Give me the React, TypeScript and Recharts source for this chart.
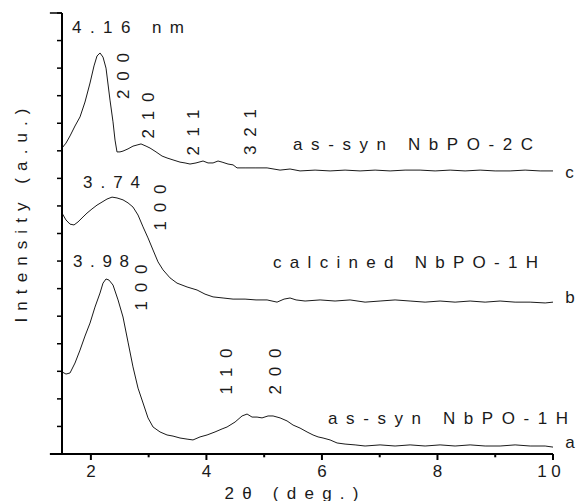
import React from 'react';
import { LineChart, Line, XAxis, YAxis, ReferenceDot, ReferenceLine, Label } from 'recharts';

const FONT = '"Liberation Sans", Arial, Helvetica, sans-serif';
const INK = '#1a1a1a';

// ---- Series (2θ in degrees, intensity in arbitrary units) ----
const twoThetaA = [1.5, 1.569, 1.639, 1.725, 1.812, 1.898, 1.985, 2.071, 2.158, 2.21, 2.262, 2.314, 2.383, 2.47, 2.556, 2.643, 2.729, 2.816, 2.903, 2.989, 3.076, 3.197, 3.318, 3.422, 3.543, 3.665, 3.768, 3.89, 4.011, 4.149, 4.271, 4.357, 4.496, 4.617, 4.704, 4.79, 4.877, 4.963, 5.067, 5.154, 5.275, 5.396, 5.5, 5.621, 5.742, 5.846, 5.933, 6.019, 6.141, 6.262, 6.4, 6.574, 6.747, 7.006, 7.266, 7.526, 7.786, 8.045, 8.305, 8.565, 8.825, 9.084, 9.344, 9.604, 9.864, 10.0];
const intensityA = [2.98, 2.9, 2.94, 3.3, 3.77, 4.28, 4.75, 5.33, 5.84, 6.2, 6.35, 6.31, 6.13, 5.59, 4.97, 4.06, 3.16, 2.39, 1.85, 1.31, 0.98, 0.8, 0.69, 0.65, 0.58, 0.54, 0.51, 0.62, 0.69, 0.8, 0.91, 0.98, 1.16, 1.38, 1.45, 1.34, 1.34, 1.31, 1.38, 1.38, 1.31, 1.2, 1.05, 0.94, 0.8, 0.69, 0.62, 0.58, 0.51, 0.4, 0.36, 0.33, 0.29, 0.33, 0.29, 0.33, 0.29, 0.33, 0.29, 0.33, 0.29, 0.29, 0.33, 0.29, 0.29, 0.25];

const twoThetaB = [1.5, 1.569, 1.639, 1.708, 1.777, 1.864, 1.933, 2.019, 2.106, 2.193, 2.279, 2.366, 2.452, 2.556, 2.643, 2.729, 2.816, 2.903, 2.989, 3.076, 3.162, 3.249, 3.37, 3.491, 3.665, 3.838, 3.976, 4.115, 4.288, 4.461, 4.669, 4.859, 5.05, 5.223, 5.344, 5.448, 5.552, 5.708, 5.968, 6.227, 6.487, 6.747, 7.006, 7.266, 7.526, 7.786, 8.045, 8.305, 8.565, 8.825, 9.084, 9.344, 9.604, 9.864, 10.0];
const intensityB = [8.74, 8.49, 8.34, 8.31, 8.42, 8.6, 8.74, 8.89, 9.03, 9.14, 9.25, 9.32, 9.29, 9.22, 9.11, 8.96, 8.67, 8.24, 7.84, 7.4, 6.97, 6.68, 6.39, 6.2, 6.06, 5.95, 5.8, 5.7, 5.66, 5.62, 5.62, 5.59, 5.59, 5.51, 5.62, 5.66, 5.59, 5.55, 5.59, 5.55, 5.59, 5.51, 5.55, 5.59, 5.55, 5.51, 5.55, 5.51, 5.55, 5.51, 5.55, 5.51, 5.51, 5.48, 5.51];

const twoThetaC = [1.5, 1.569, 1.639, 1.725, 1.812, 1.898, 1.985, 2.054, 2.106, 2.158, 2.21, 2.262, 2.331, 2.383, 2.418, 2.452, 2.504, 2.556, 2.643, 2.729, 2.799, 2.868, 2.955, 3.024, 3.128, 3.232, 3.318, 3.422, 3.543, 3.63, 3.716, 3.82, 3.942, 4.028, 4.115, 4.201, 4.271, 4.374, 4.461, 4.53, 4.669, 4.842, 5.05, 5.275, 5.448, 5.621, 5.881, 6.141, 6.4, 6.66, 6.92, 7.18, 7.439, 7.699, 7.959, 8.219, 8.478, 8.738, 8.998, 9.258, 9.517, 9.777, 10.0];
const intensityC = [11.1, 11.28, 11.54, 11.9, 12.23, 12.77, 13.46, 14.08, 14.44, 14.55, 14.4, 14.0, 12.84, 12.05, 11.39, 10.96, 10.96, 10.99, 11.07, 11.17, 11.21, 11.25, 11.17, 11.1, 10.96, 10.81, 10.74, 10.67, 10.59, 10.56, 10.52, 10.56, 10.63, 10.56, 10.56, 10.63, 10.59, 10.52, 10.49, 10.38, 10.38, 10.38, 10.38, 10.3, 10.34, 10.27, 10.3, 10.27, 10.3, 10.27, 10.3, 10.27, 10.3, 10.3, 10.27, 10.3, 10.27, 10.3, 10.27, 10.27, 10.3, 10.27, 10.27];

// ---- Axes ----
const xTicks = [2, 4, 6, 8, 10];
const xTickLabels = ['2', '4', '6', '8', '1 0'];
const xMinorTicks = [3, 5, 7, 9];
const yTicks = [0, 1, 2, 3, 4, 5, 6, 7, 8, 9, 10, 11, 12, 13, 14, 15, 16];
const xTitle = '2θ  (deg.)';
const yTitle = 'Intensity (a.u.)';

// ---- Annotation texts ----
const annotationTexts = ['4.16 nm', '200', '210', '211', '321', 'as-syn NbPO-2C', 'c', '3.74', '100', 'calcined NbPO-1H', 'b', '3.98', '100', '110', '200', 'as-syn NbPO-1H', 'a'];
// placement of each annotation (data coords), rotation and rendered length
const annotationPlacement = [
  { x: 1.673, y: 15.456, rot: 0, len: 112 },
  { x: 2.565, y: 13.714, rot: -90, len: 46 },
  { x: 2.998, y: 12.281, rot: -90, len: 46 },
  { x: 3.777, y: 11.664, rot: -90, len: 46 },
  { x: 4.755, y: 11.682, rot: -90, len: 46 },
  { x: 5.5, y: 11.211, rot: 0, len: 240 },
  { x: 10.21, y: 10.231, rot: 0, len: 0 },
  { x: 1.864, y: 9.868, rot: 0, len: 57 },
  { x: 3.197, y: 8.943, rot: -90, len: 46 },
  { x: 5.154, y: 6.93, rot: 0, len: 265 },
  { x: 10.21, y: 5.66, rot: 0, len: 0 },
  { x: 1.69, y: 6.966, rot: 0, len: 56 },
  { x: 2.877, y: 6.041, rot: -90, len: 46 },
  { x: 4.348, y: 2.993, rot: -90, len: 46 },
  { x: 5.188, y: 2.993, rot: -90, len: 46 },
  { x: 6.106, y: 1.306, rot: 0, len: 240 },
  { x: 10.21, y: 0.435, rot: 0, len: 0 },
];

const toRows = (xs: number[], ys: number[]) => xs.map((x, i) => ({ x, v: ys[i] }));
const dataA = toRows(twoThetaA, intensityA);
const dataB = toRows(twoThetaB, intensityB);
const dataC = toRows(twoThetaC, intensityC);

function AnnotLabel(props: any) {
  const vb = props.viewBox || {};
  const cx = (vb.x ?? 0) + (vb.width ?? 0) / 2;
  const cy = (vb.y ?? 0) + (vb.height ?? 0) / 2;
  const { text, rot, len } = props;
  const extra: any = len > 0 ? { textLength: len, lengthAdjust: 'spacing' } : {};
  if (rot) {
    return (
      <text
        x={cx}
        y={cy}
        transform={`rotate(${rot} ${cx} ${cy})`}
        textAnchor="middle"
        dominantBaseline="central"
        fontFamily={FONT}
        fontSize={17}
        fill={INK}
        {...extra}
      >
        {text}
      </text>
    );
  }
  return (
    <text x={cx} y={cy} textAnchor="start" dominantBaseline="central" fontFamily={FONT} fontSize={17} fill={INK} {...extra}>
      {text}
    </text>
  );
}

function XTick(props: any) {
  const { x, y, payload } = props;
  const idx = xTicks.indexOf(payload.value);
  const label = idx >= 0 ? xTickLabels[idx] : '';
  const shift = payload.value === 10 ? -4 : 0;
  return (
    <text x={x + shift} y={y} dy="0.71em" textAnchor="middle" fontFamily={FONT} fontSize={17} fill={INK}>
      {label}
    </text>
  );
}

function XTitle(props: any) {
  const vb = props.viewBox || { x: 62, y: 454, width: 491, height: 47 };
  const cx = vb.x + vb.width / 2 - 16;
  const cy = vb.y + 39;
  return (
    <text x={cx} y={cy} textAnchor="middle" dominantBaseline="central" fontFamily={FONT} fontSize={17} fill={INK} textLength={134} lengthAdjust="spacing">
      {xTitle}
    </text>
  );
}

function YTitle(props: any) {
  const vb = props.viewBox || { x: 0, y: 13, width: 62, height: 441 };
  const cx = vb.x + 21;
  const cy = vb.y + vb.height / 2 - 18;
  return (
    <text
      x={cx}
      y={cy}
      transform={`rotate(-90 ${cx} ${cy})`}
      textAnchor="middle"
      dominantBaseline="central"
      fontFamily={FONT}
      fontSize={17}
      fill={INK}
      textLength={214}
      lengthAdjust="spacing"
    >
      {yTitle}
    </text>
  );
}

export default function App() {
  return (
    <div style={{ position: 'absolute', left: 0, top: 0, width: 576, height: 501, background: '#fff' }}>
      <LineChart width={576} height={501} margin={{ top: 13, right: 23, bottom: 0, left: 0 }}>
        <XAxis
          type="number"
          dataKey="x"
          domain={[1.5, 10]}
          allowDataOverflow
          ticks={xTicks}
          interval={0}
          height={47}
          tickSize={6}
          tickMargin={5}
          axisLine={{ stroke: '#000', strokeWidth: 2 }}
          tickLine={{ stroke: '#000', strokeWidth: 2 }}
          tick={<XTick />}
        >
          <Label content={<XTitle />} />
        </XAxis>
        <YAxis
          type="number"
          domain={[0, 16]}
          allowDataOverflow
          ticks={yTicks}
          interval={0}
          width={62}
          tickSize={5}
          axisLine={{ stroke: '#000', strokeWidth: 2 }}
          tickLine={{ stroke: '#000', strokeWidth: 1.5 }}
          tickFormatter={() => ''}
        >
          <Label content={<YTitle />} />
        </YAxis>
        <ReferenceLine
          segment={[{ x: 1.29, y: 0 }, { x: 1.5, y: 0 }]}
          ifOverflow="visible"
          stroke="#000"
          strokeWidth={2}
        />
        <ReferenceLine
          segment={[{ x: 1.29, y: 16 }, { x: 1.5, y: 16 }]}
          ifOverflow="visible"
          stroke="#000"
          strokeWidth={1.5}
        />
        {xMinorTicks.map((t) => (
          <ReferenceLine
            key={`m${t}`}
            segment={[{ x: t, y: 0 }, { x: t, y: -0.12 }]}
            ifOverflow="visible"
            stroke="#000"
            strokeWidth={2}
          />
        ))}
        <Line data={dataA} dataKey="v" type="linear" stroke={INK} strokeWidth={1} dot={false} isAnimationActive={false} />
        <Line data={dataB} dataKey="v" type="linear" stroke={INK} strokeWidth={1} dot={false} isAnimationActive={false} />
        <Line data={dataC} dataKey="v" type="linear" stroke={INK} strokeWidth={1} dot={false} isAnimationActive={false} />
        {annotationTexts.map((t, i) => {
          const p = annotationPlacement[i];
          return (
            <ReferenceDot
              key={i}
              x={p.x}
              y={p.y}
              r={1}
              fill="none"
              stroke="none"
              ifOverflow="visible"
              label={<AnnotLabel text={t} rot={p.rot} len={p.len} />}
            />
          );
        })}
      </LineChart>
    </div>
  );
}
